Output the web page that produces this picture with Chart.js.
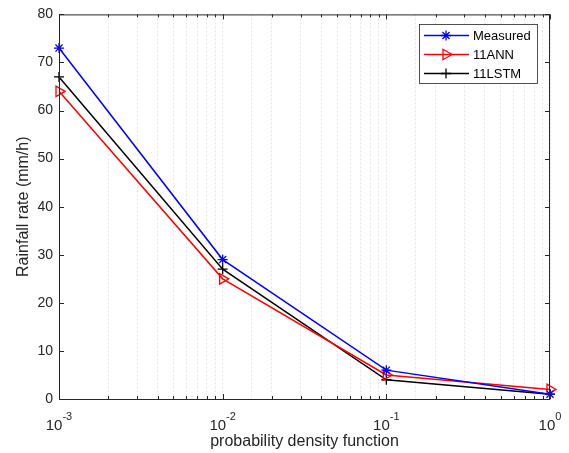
<!DOCTYPE html>
<html>
<head>
<meta charset="utf-8">
<script src="https://cdn.jsdelivr.net/npm/chart.js@4"></script>
<style>
  html, body { margin: 0; padding: 0; background: #fff; }
  #wrap { width: 569px; height: 453px; }
</style>
</head>
<body>
<div id="wrap"><canvas id="rainChart"></canvas></div>
<script>
// probability values (x axis, log)
const probs = [0.001, 0.01, 0.1, 1];
const measured = [73, 29, 6, 1];
const ann = [64, 25, 5, 2];
const lstm = [67, 27, 4, 1];
const xTickExps = [-3, -2, -1, 0];
const yTicks = [0, 10, 20, 30, 40, 50, 60, 70, 80];

const FONT = "'Liberation Sans', Arial, Helvetica, sans-serif";
const AXIS_COLOR = "#262626";

function toPoints(values) {
  return values.map((v, i) => ({ x: probs[i], y: v }));
}

// box, inner ticks, x tick labels, titles and legend like matlab
const matlabFrame = {
  id: "matlabFrame",
  afterDraw(chart) {
    const ctx = chart.ctx;
    const area = chart.chartArea;
    const xs = chart.scales.x;
    const ys = chart.scales.y;
    ctx.save();

    // box
    ctx.strokeStyle = AXIS_COLOR;
    ctx.lineWidth = 1;
    ctx.strokeRect(area.left + 0.5, area.top + 0.5, area.right - area.left - 1, area.bottom - area.top);

    // y ticks, both sides
    ctx.beginPath();
    yTicks.forEach((t) => {
      const py = Math.round(ys.getPixelForValue(t)) + 0.5;
      ctx.moveTo(area.left, py);
      ctx.lineTo(area.left + 5, py);
      ctx.moveTo(area.right, py);
      ctx.lineTo(area.right - 5, py);
    });
    // x ticks, top and bottom (major + minor)
    xTickExps.forEach((e) => {
      for (let m = 1; m <= 9; m++) {
        const v = m * Math.pow(10, e);
        if (v > 1.0000001) break;
        const px = Math.round(xs.getPixelForValue(v)) + 0.5;
        const len = m === 1 ? 5 : 3;
        ctx.moveTo(px, area.bottom);
        ctx.lineTo(px, area.bottom - len);
        ctx.moveTo(px, area.top);
        ctx.lineTo(px, area.top + len);
      }
    });
    ctx.stroke();

    // x tick labels 10^n
    ctx.fillStyle = AXIS_COLOR;
    ctx.textBaseline = "alphabetic";
    xTickExps.forEach((e) => {
      const px = xs.getPixelForValue(Math.pow(10, e));
      const base = "10";
      const sup = e === 0 ? "0" : "-" + Math.abs(e);
      ctx.font = "15px " + FONT;
      const wb = ctx.measureText(base).width;
      ctx.font = "11px " + FONT;
      const ws = ctx.measureText(sup).width;
      const x0 = px - (wb + ws) / 2;
      ctx.font = "15px " + FONT;
      ctx.textAlign = "left";
      ctx.fillText(base, x0, area.bottom + 31);
      ctx.font = "11px " + FONT;
      ctx.fillText(sup, x0 + wb, area.bottom + 21);
    });

    // axis titles
    ctx.font = "16px " + FONT;
    ctx.textAlign = "center";
    ctx.textBaseline = "middle";
    ctx.fillText("probability density function", (area.left + area.right) / 2, 442);
    ctx.save();
    ctx.translate(24, (area.top + area.bottom) / 2);
    ctx.rotate(-Math.PI / 2);
    ctx.fillText("Rainfall rate (mm/h)", 0, 0);
    ctx.restore();

    // legend
    const lx = 419, ly = 24, lw = 118, lh = 59;
    ctx.fillStyle = "#fff";
    ctx.fillRect(lx, ly, lw, lh);
    ctx.strokeStyle = AXIS_COLOR;
    ctx.lineWidth = 0.8;
    ctx.strokeRect(lx + 0.5, ly + 0.5, lw, lh);
    const rows = [35, 54, 73];
    chart.data.datasets.forEach((ds, i) => {
      const ry = rows[i] + 0.5;
      ctx.strokeStyle = ds.borderColor;
      ctx.lineWidth = 1.5;
      ctx.beginPath();
      ctx.moveTo(lx + 5, ry);
      ctx.lineTo(lx + 50, ry);
      ctx.stroke();
      ctx.fillStyle = "rgba(0,0,0,0)";
      ctx.lineWidth = 1.3;
      Chart.helpers.drawPoint(ctx, {
        pointStyle: ds.pointStyle,
        rotation: ds.pointRotation || 0,
        radius: ds.pointRadius,
        borderWidth: 1.3
      }, lx + 27, ry);
      ctx.fillStyle = "#000";
      ctx.font = "13px " + FONT;
      ctx.textAlign = "left";
      ctx.textBaseline = "middle";
      ctx.fillText(ds.label, lx + 54, ry + 1);
    });
    ctx.restore();
  }
};

new Chart(document.getElementById("rainChart"), {
  type: "line",
  data: {
    datasets: [
      {
        label: "Measured",
        data: toPoints(measured),
        borderColor: "#0000ff",
        pointBorderColor: "#0000ff",
        pointBackgroundColor: "rgba(0,0,0,0)",
        pointStyle: "star",
        pointRadius: 5,
        borderWidth: 1.5,
        pointBorderWidth: 1.3
      },
      {
        label: "11ANN",
        data: toPoints(ann),
        borderColor: "#ff0000",
        pointBorderColor: "#ff0000",
        pointBackgroundColor: "rgba(0,0,0,0)",
        pointStyle: "triangle",
        pointRotation: 90,
        pointRadius: 6,
        borderWidth: 1.5,
        pointBorderWidth: 1.3
      },
      {
        label: "11LSTM",
        data: toPoints(lstm),
        borderColor: "#000000",
        pointBorderColor: "#000000",
        pointBackgroundColor: "rgba(0,0,0,0)",
        pointStyle: "cross",
        pointRadius: 5,
        borderWidth: 1.5,
        pointBorderWidth: 1.3
      }
    ]
  },
  options: {
    responsive: true,
    maintainAspectRatio: false,
    animation: false,
    clip: false,
    layout: { padding: { top: 13, right: 19, left: 0, bottom: 0 } },
    plugins: {
      legend: { display: false },
      tooltip: { enabled: false }
    },
    elements: { line: { tension: 0 } },
    scales: {
      x: {
        type: "logarithmic",
        min: 0.001,
        max: 1,
        afterFit: (scale) => { scale.height = 54; },
        ticks: { display: false },
        grid: { color: "#e6e6e6", lineWidth: 1, drawTicks: false },
        border: { display: false, dash: [2, 2] }
      },
      y: {
        min: 0,
        max: 80,
        afterFit: (scale) => { scale.width = 59; },
        ticks: {
          stepSize: 10,
          padding: 6,
          color: AXIS_COLOR,
          font: { family: FONT, size: 14 }
        },
        grid: { display: false, drawTicks: false },
        border: { display: false }
      }
    }
  },
  plugins: [matlabFrame]
});
</script>
</body>
</html>
